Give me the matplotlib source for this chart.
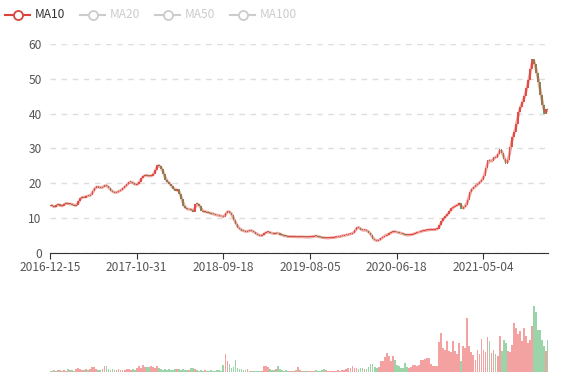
import numpy as np
import matplotlib
matplotlib.use('Agg')
import matplotlib.pyplot as plt
from matplotlib.lines import Line2D

plt.rcParams['font.family'] = ['Noto Sans CJK SC', 'DejaVu Sans']

# weekly closes (one point ~ 5 trading days)
closes = [
    13.8, 13.4, 13.1, 13.8, 14.0, 13.4, 13.6, 14.2, 14.3, 14.0,
    14.1, 13.9, 13.6, 13.7, 15.0, 15.8, 16.2, 15.9, 16.5, 16.4,
    16.7, 17.8, 18.7, 19.1, 18.8, 18.7, 19.0, 19.5, 19.2, 18.6,
    17.9, 17.5, 17.3, 17.5, 17.8, 18.1, 18.6, 19.2, 19.7, 20.4,
    20.4, 20.0, 19.6, 19.7, 20.4, 21.5, 22.1, 22.4, 22.2, 22.0,
    22.2, 22.6, 23.8, 25.3, 25.0, 24.2, 22.8, 21.0, 20.4, 19.9,
    19.1, 18.5, 17.9, 18.3, 17.0, 15.4, 13.5, 12.8, 12.5, 12.6,
    12.3, 11.9, 14.2, 14.0, 13.4, 12.2, 11.8, 11.9, 11.6, 11.4,
    11.3, 11.1, 10.9, 10.8, 10.7, 10.5, 10.4, 11.5, 12.1, 11.6,
    10.8, 9.4, 8.2, 7.3, 6.8, 6.4, 6.3, 6.1, 6.3, 6.5,
    6.3, 5.9, 5.5, 5.2, 4.9, 5.1, 5.6, 6.0, 6.0, 5.8,
    5.6, 5.5, 5.8, 5.6, 5.3, 5.1, 4.9, 4.8, 4.7, 4.7,
    4.7, 4.7, 4.6, 4.6, 4.7, 4.6, 4.6, 4.5, 4.6, 4.6,
    4.7, 4.9, 4.8, 4.6, 4.5, 4.4, 4.3, 4.3, 4.3, 4.4,
    4.4, 4.5, 4.6, 4.7, 4.8, 5.0, 5.1, 5.2, 5.4, 5.5,
    5.7, 6.5, 7.4, 7.3, 6.6, 6.5, 6.6, 6.4, 5.8, 5.1,
    4.0, 3.6, 3.5, 3.8, 4.2, 4.7, 5.0, 5.3, 5.6, 5.9,
    6.2, 6.1, 5.9, 5.8, 5.6, 5.4, 5.2, 5.1, 5.2, 5.3,
    5.5, 5.7, 5.9, 6.1, 6.3, 6.4, 6.5, 6.6, 6.7, 6.7,
    6.7, 6.8, 6.9, 8.0, 9.3, 10.0, 10.6, 11.3, 12.2, 12.8,
    13.3, 13.6, 13.9, 14.4, 12.6, 13.1, 13.9, 15.2, 17.6, 18.4,
    18.9, 19.4, 19.9, 20.4, 21.1, 22.2, 24.5, 26.8, 26.3, 26.4,
    27.6, 27.4, 28.4, 29.9, 28.6, 27.0, 25.6, 26.8, 30.5, 33.2,
    34.8, 37.0, 40.5, 42.0, 43.4, 45.0, 47.3, 49.6, 52.8, 55.8,
    54.3, 51.8, 49.0, 45.4, 42.6, 39.8, 41.2, 41.0,
]
first_open = 13.6

# volume, arbitrary units (read as bar height)
volumes = [
    1, 1, 2, 1, 2, 2, 1, 2, 1, 3,
    2, 2, 1, 3, 4, 3, 2, 2, 3, 2,
    3, 5, 5, 3, 2, 2, 3, 6, 6, 3,
    2, 3, 2, 2, 3, 2, 2, 2, 3, 3,
    2, 3, 2, 4, 6, 4, 7, 5, 5, 5,
    6, 5, 4, 6, 4, 3, 2, 3, 2, 3,
    2, 2, 3, 3, 3, 2, 3, 2, 2, 2,
    4, 4, 3, 2, 1, 2, 1, 2, 1, 1,
    2, 1, 1, 2, 2, 1, 7, 18, 11, 8,
    4, 5, 12, 4, 3, 3, 2, 2, 3, 1,
    1, 1, 1, 1, 1, 1, 6, 6, 5, 3,
    2, 2, 3, 6, 3, 2, 1, 2, 1, 1,
    1, 1, 2, 5, 2, 1, 1, 1, 1, 1,
    1, 1, 2, 1, 1, 2, 3, 2, 1, 1,
    1, 1, 1, 2, 1, 2, 2, 3, 4, 4,
    6, 4, 4, 3, 4, 4, 3, 3, 5, 8,
    8, 5, 4, 5, 11, 11, 15, 19, 16, 11,
    16, 12, 7, 6, 4, 4, 9, 5, 4, 5,
    7, 7, 6, 7, 12, 12, 13, 14, 14, 8,
    6, 6, 6, 30, 39, 24, 22, 31, 21, 20,
    31, 21, 18, 29, 11, 26, 24, 54, 26, 20,
    17, 12, 22, 18, 33, 22, 20, 35, 31, 19,
    22, 18, 16, 36, 21, 32, 29, 21, 20, 27,
    49, 44, 38, 41, 31, 44, 36, 29, 32, 46,
    66, 60, 42, 42, 32, 26, 21, 32,
]

tick_labels = ['2016-12-15', '2017-10-31', '2018-09-18', '2019-08-05', '2020-06-18', '2021-05-04']
label_step = 43
legend_names = ['MA10', 'MA20', 'MA50', 'MA100']

UP = '#eb5454'
DOWN = '#47b262'
MA_COLOR = '#d9453b'

closes = np.array(closes)
opens = np.concatenate([[first_open], closes[:-1]])
x = np.arange(len(closes))
colors = [UP if c >= o else DOWN for o, c in zip(opens, closes)]

W, H = 577, 380
fig = plt.figure(figsize=(W / 100, H / 100), dpi=100)

def px_axes(left, top, width, height):
    return fig.add_axes([left / W, 1 - (top + height) / H, width / W, height / H])

ax = px_axes(50, 44, 498, 209)
vax = px_axes(50, 290, 498, 82)

# candles
bottoms = np.minimum(opens, closes)
heights = np.maximum(np.abs(closes - opens), 0.25)
ax.bar(x, heights, bottom=bottoms, width=0.8, color=colors, linewidth=0, zorder=2)

# MA10 (2 weekly points ~ 10 days)
ma = np.convolve(closes, np.ones(2) / 2, mode='valid')
ax.plot(x[1:], ma, color=MA_COLOR, lw=2, alpha=0.5, zorder=3)

ax.set_xlim(0, len(closes) - 1)
ax.set_ylim(0, 60)
ax.set_yticks(range(0, 61, 10))
ax.yaxis.grid(True, color='#dddddd', linestyle=(0, (4, 4)), lw=1)
ax.set_axisbelow(True)
for s in ['top', 'right', 'left']:
    ax.spines[s].set_visible(False)
ax.spines['bottom'].set_color('#333333')
ax.tick_params(axis='y', length=0, pad=6, labelsize=8.6, labelcolor='#555555')
ax.set_xticks(x[::label_step][:len(tick_labels)])
ax.set_xticklabels(tick_labels)
ax.tick_params(axis='x', length=4, color='#333333', pad=2, labelsize=8.6, labelcolor='#555555')

# volume
vax.bar(x, volumes, width=0.9, color=colors, alpha=0.55, linewidth=0)
vax.set_xlim(0, len(closes) - 1)
vax.set_ylim(0, 82)
vax.axis('off')

# legend (only MA10 active)
for k, name in enumerate(legend_names):
    x0 = 5 + 75 * k
    c = MA_COLOR if k == 0 else '#cccccc'
    tc = '#333333' if k == 0 else '#cccccc'
    fig.add_artist(Line2D([x0 / W, (x0 + 25) / W], [1 - 15 / H, 1 - 15 / H],
                          transform=fig.transFigure, color=c, lw=1.5))
    fig.add_artist(Line2D([(x0 + 12.5) / W], [1 - 15 / H], transform=fig.transFigure,
                          marker='o', markersize=6.5, mfc='white', mec=c, mew=1.3, color=c))
    fig.text((x0 + 30) / W, 1 - 15 / H, name, color=tc, fontsize=8.6, va='center', ha='left')

fig.savefig('out.png', dpi=100)
